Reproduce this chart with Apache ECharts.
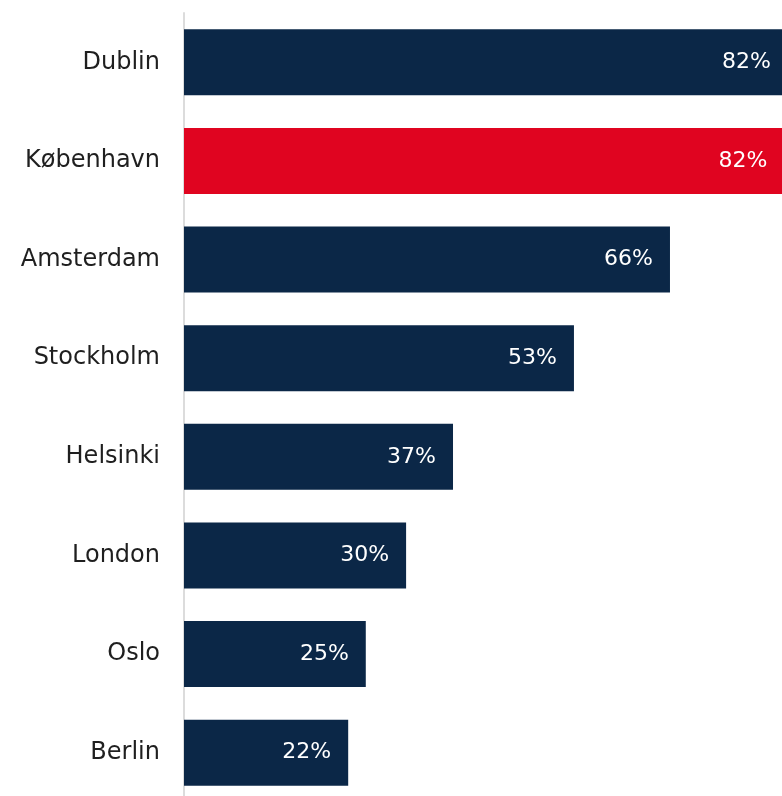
<!DOCTYPE html>
<html>
<head>
<meta charset="utf-8">
<script src="https://cdn.jsdelivr.net/npm/echarts@6/dist/echarts.min.js"></script>
<style>html,body{margin:0;padding:0;background:#fff}#c{width:782px;height:796px}</style>
</head>
<body>
<div id="c"></div>
<script>
const cities = ['Dublin', 'København', 'Amsterdam', 'Stockholm', 'Helsinki', 'London', 'Oslo', 'Berlin'];
const shares = [82.4, 81.9, 66.3, 53.2, 36.7, 30.3, 24.8, 22.4];
const highlight = 'København';

const NAVY = '#0b2747';
const RED = '#e00420';

const chart = echarts.init(document.getElementById('c'), null, { renderer: 'canvas' });
chart.setOption({
  animation: false,
  grid: { left: 184, top: 13, width: 733, height: 789, outerBoundsMode: 'none', containLabel: false },
  xAxis: {
    type: 'value', min: 0, max: 100, show: false
  },
  yAxis: {
    type: 'category', data: cities, inverse: true,
    axisLine: { show: true, lineStyle: { color: '#dcdcdc', width: 2 } },
    axisTick: { show: false },
    axisLabel: { color: '#1f1f1f', fontSize: 24, fontFamily: 'DejaVu Sans', margin: 24 }
  },
  series: [{
    type: 'bar',
    barCategoryGap: '33%',
    data: shares.map((v, i) => ({
      value: v,
      itemStyle: { color: cities[i] === highlight ? RED : NAVY }
    })),
    label: {
      show: true, position: 'insideRight', distance: 17,
      color: '#ffffff', fontSize: 22, fontFamily: 'DejaVu Sans',
      formatter: p => Math.round(p.value) + '%'
    }
  }]
});
</script>
</body>
</html>
